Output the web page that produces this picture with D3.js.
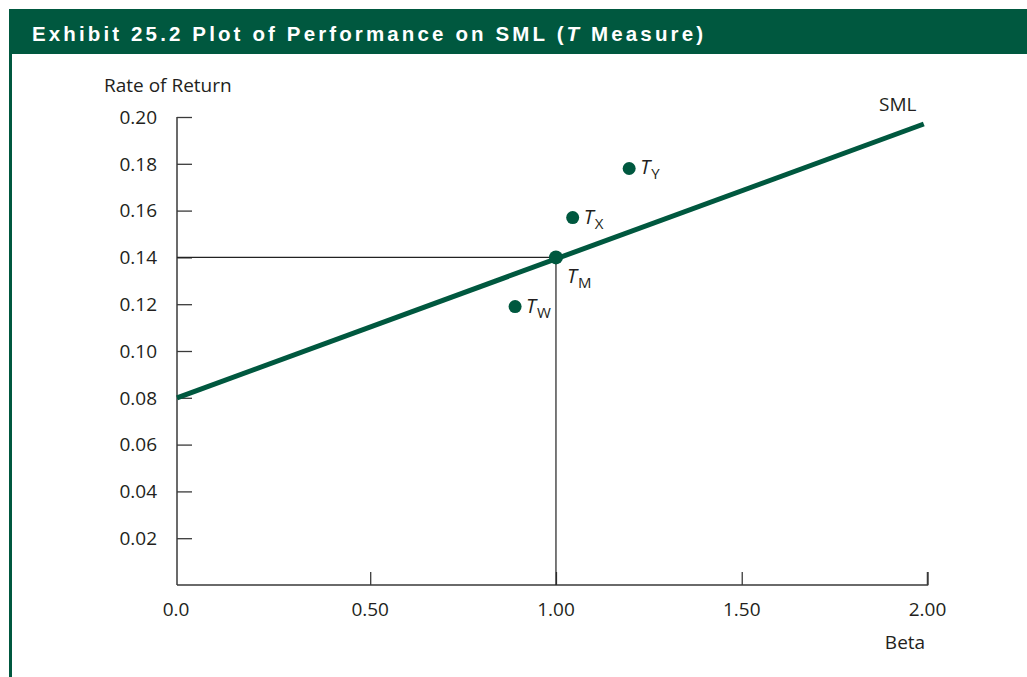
<!DOCTYPE html>
<html>
<head>
<meta charset="utf-8">
<script src="https://cdn.jsdelivr.net/npm/d3@7"></script>
<style>
  html, body { margin: 0; padding: 0; background: #fff; }
  svg { display: block; }
</style>
</head>
<body>
<svg id="chart" width="1027" height="677"></svg>
<script>
// ---- data ----
const title = "Exhibit 25.2 Plot of Performance on SML (T Measure)";
const yTicks = [0.02, 0.04, 0.06, 0.08, 0.10, 0.12, 0.14, 0.16, 0.18, 0.20];
const xTicks = [0.5, 1.0, 1.5, 2.0];
const xTickLabels = ["0.50", "1.00", "1.50", "2.00"];
const originLabel = "0.0";
const smlBeta = [-0.02, 1.99];
const smlReturn = [0.08, 0.197];
const pointNames = ["W", "M", "X", "Y"];
const pointBeta = [0.89, 1.00, 1.045, 1.197];
const pointReturn = [0.119, 0.140, 0.157, 0.178];

const green = "#00583F";
const axisColor = "#3a3a3a";
const font = "'Open Sans', 'Noto Sans', sans-serif";
const fs = 19;

const svg = d3.select("#chart");

// header
svg.append("rect").attr("x", 9).attr("y", 9).attr("width", 1018).attr("height", 45).attr("fill", green);
svg.append("rect").attr("x", 9).attr("y", 40).attr("width", 3).attr("height", 637).attr("fill", green);
const tt = svg.append("text").attr("x", 32).attr("y", 41)
  .attr("fill", "#fff").attr("font-family", "'Liberation Sans Narrow', 'Liberation Sans', Arial, sans-serif")
  .attr("font-weight", "bold").attr("font-size", 20.5)
  .attr("textLength", 671).attr("lengthAdjust", "spacing");
tt.append("tspan").text("Exhibit 25.2 Plot of Performance on SML (");
tt.append("tspan").attr("font-style", "italic").text("T");
tt.append("tspan").text(" Measure)");

// scales
const x = d3.scaleLinear().domain([-0.02, 2.0]).range([177, 927.5]);
const y = d3.scaleLinear().domain([0, 0.2]).range([585, 117]);

const g = svg.append("g");

// y axis
const yAxis = d3.axisRight(y).tickValues(yTicks).tickSize(15).tickFormat("");
const ya = g.append("g").attr("transform", `translate(${x.range()[0]},0)`).call(yAxis);
ya.select(".domain").attr("d", `M0,${y(0.2)}V${y(0)}`);
ya.selectAll("line").attr("stroke", axisColor).attr("stroke-width", 1.3);
ya.select(".domain").attr("stroke", axisColor).attr("stroke-width", 1.5);
g.selectAll(".ylab").data(yTicks).enter().append("text")
  .attr("x", 157).attr("y", d => y(d)).attr("dy", "0.36em")
  .attr("text-anchor", "end").attr("font-family", font).attr("font-size", fs).attr("fill", "#231f20")
  .text(d => d.toFixed(2));

// x axis
const xAxis = d3.axisTop(x).tickValues(xTicks).tickSize(13).tickFormat("");
const xa = g.append("g").attr("transform", `translate(0,${y(0)})`).call(xAxis);
xa.select(".domain").attr("d", `M${x.range()[0]},0H${x.range()[1]}V-13`);
xa.selectAll("line").attr("stroke", axisColor).attr("stroke-width", 1.3);
xa.select(".domain").attr("stroke", axisColor).attr("stroke-width", 1.5).attr("fill", "none");
g.selectAll(".xlab").data(xTicks).enter().append("text")
  .attr("x", d => x(d)).attr("y", 616)
  .attr("text-anchor", "middle").attr("font-family", font).attr("font-size", fs).attr("fill", "#231f20")
  .text((d, i) => xTickLabels[i]);
g.append("text").attr("x", x.range()[0] - 1).attr("y", 616).attr("text-anchor", "middle")
  .attr("font-family", font).attr("font-size", fs).attr("fill", "#231f20").text(originLabel);

// axis titles
g.append("text").attr("x", 104).attr("y", 92).attr("font-family", font).attr("font-size", fs)
  .attr("fill", "#231f20").text("Rate of Return");
g.append("text").attr("x", 905).attr("y", 649).attr("text-anchor", "middle").attr("font-family", font)
  .attr("font-size", fs).attr("fill", "#231f20").text("Beta");

// market crosshair
const mIdx = pointNames.indexOf("M");
g.append("path")
  .attr("d", `M${x.range()[0]},${y(pointReturn[mIdx])}H${x(pointBeta[mIdx])}V${y(0)}`)
  .attr("fill", "none").attr("stroke", "#222").attr("stroke-width", 1.2);

// SML
const line = d3.line().x(d => x(d[0])).y(d => y(d[1]));
g.append("path").datum(smlBeta.map((b, i) => [b, smlReturn[i]]))
  .attr("d", line).attr("stroke", green).attr("stroke-width", 5).attr("fill", "none");
g.append("text").attr("x", x(smlBeta[1]) - 26).attr("y", 111).attr("text-anchor", "middle")
  .attr("font-family", font).attr("font-size", fs).attr("fill", "#231f20").text("SML");

// points
const pts = pointNames.map((n, i) => ({ n, b: pointBeta[i], r: pointReturn[i] }));
g.selectAll(".pt").data(pts).enter().append("circle")
  .attr("cx", d => x(d.b)).attr("cy", d => y(d.r)).attr("r", d => d.n === "M" ? 7 : 6.5)
  .attr("fill", green);

const labOff = { W: [11, 6], X: [11, 6], Y: [11, 6], M: [11, 26] };
pts.forEach(d => {
  const [dx, dy] = labOff[d.n];
  const t = g.append("text").attr("x", x(d.b) + dx).attr("y", y(d.r) + dy)
    .attr("font-family", font).attr("fill", "#231f20");
  t.append("tspan").attr("font-style", "italic").attr("font-size", 20).text("T");
  t.append("tspan").attr("font-size", 15).attr("dy", 5).attr("dx", 1).text(d.n);
});
</script>
</body>
</html>
